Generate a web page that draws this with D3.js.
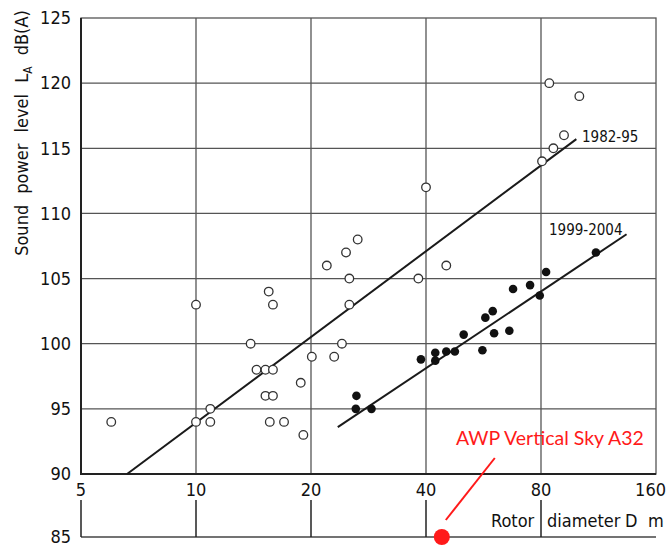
<!DOCTYPE html>
<html>
<head>
<meta charset="utf-8">
<script src="https://cdn.jsdelivr.net/npm/d3@7"></script>
<style>
  html, body { margin: 0; padding: 0; background: #fff; }
  svg { display: block; }
  .cond { font-family: "Liberation Sans Narrow", "DejaVu Sans Condensed", sans-serif; fill: #111; }
</style>
</head>
<body>
<svg width="667" height="548"></svg>
<script>
// open circles: 1982-95 turbines
const oldD  = [6.0, 10, 10, 10.9, 10.9, 13.9, 14.4, 15.2, 15.9, 15.5, 15.9, 15.2, 15.9, 15.6, 17.0, 18.8, 19.1, 20.1, 22.0, 23.0, 24.1, 24.7, 25.2, 25.2, 26.5, 38.2, 40, 45.2, 80.5, 84.1, 86.2, 91.9, 100.8];
const oldLw = [94, 103, 94, 95, 94, 100, 98, 98, 98, 104, 103, 96, 96, 94, 94, 97, 93, 99, 106, 99, 100, 107, 105, 103, 108, 105, 112, 106, 114, 120, 115, 116, 119];

// filled dots: 1999-2004 turbines
const newD  = [26.3, 26.2, 28.8, 38.8, 42.3, 42.3, 45.2, 47.6, 50.2, 56.2, 57.2, 59.8, 60.3, 66.1, 67.6, 74.9, 79.4, 82.5, 111.4];
const newLw = [96, 95, 95, 98.8, 99.3, 98.7, 99.4, 99.4, 100.7, 99.5, 102.0, 102.5, 100.8, 101.0, 104.2, 104.5, 103.7, 105.5, 107.0];

// regression lines [D, Lw]
const trendOld = [[6.6, 90], [99, 115.7]];
const trendNew = [[23.5, 93.6], [134, 108.4]];

const xTicks = [5, 10, 20, 40, 80, 160];
const yTicks = [90, 95, 100, 105, 110, 115, 120, 125];
const awp = {D: 44, Lw: 85, label: 'AWP Vertical Sky A32'};

const svg = d3.select('svg');

const x = d3.scaleLog().base(2).domain([5, 160]).range([81, 656]);
const y = d3.scaleLinear().domain([90, 125]).range([474, 18]);

const g = svg.append('g');

// grid
g.selectAll('.vgrid')
    .data(xTicks.slice(1, -1))
    .enter().append('line')
    .attr('x1', d => x(d)).attr('x2', d => x(d))
    .attr('y1', y(125)).attr('y2', y(90))
    .attr('stroke', '#555').attr('stroke-width', 1.3);

g.selectAll('.hgrid')
    .data(yTicks.slice(1, -1))
    .enter().append('line')
    .attr('x1', x(5)).attr('x2', x(160))
    .attr('y1', d => y(d)).attr('y2', d => y(d))
    .attr('stroke', '#555').attr('stroke-width', 1.3);

// frame
g.append('rect')
    .attr('x', x(5)).attr('y', y(125))
    .attr('width', x(160) - x(5)).attr('height', y(90) - y(125))
    .attr('fill', 'none').attr('stroke', '#555').attr('stroke-width', 1.3);
g.append('path')
    .attr('d', `M${x(5)},${y(125)}V${y(90)}H${x(160)}`)
    .attr('fill', 'none').attr('stroke', '#222').attr('stroke-width', 2);

// y tick labels
g.selectAll('.ylab')
    .data(yTicks)
    .enter().append('text')
    .attr('class', 'cond')
    .attr('x', 71).attr('y', d => y(d))
    .attr('dy', '0.35em')
    .attr('text-anchor', 'end')
    .attr('font-size', 18)
    .text(d => d);

// x tick labels (last one pinned to the right edge so it stays inside)
g.selectAll('.xlab')
    .data(xTicks)
    .enter().append('text')
    .attr('class', 'cond')
    .attr('x', d => d === 160 ? 666 : x(d)).attr('y', 490)
    .attr('dy', '0.35em')
    .attr('text-anchor', d => d === 160 ? 'end' : 'middle')
    .attr('font-size', 18)
    .text(d => d);

// lower scale: 85 dB baseline with tick stubs
const yBase = 537;
g.append('line')
    .attr('x1', x(5)).attr('x2', x(160))
    .attr('y1', yBase).attr('y2', yBase)
    .attr('stroke', '#444').attr('stroke-width', 1.5);
g.selectAll('.stub')
    .data(xTicks.slice(0, -1))
    .enter().append('line')
    .attr('x1', d => x(d)).attr('x2', d => x(d))
    .attr('y1', 500).attr('y2', yBase)
    .attr('stroke', '#222').attr('stroke-width', 1.5);
g.append('text')
    .attr('class', 'cond')
    .attr('x', 71).attr('y', yBase)
    .attr('dy', '0.35em')
    .attr('text-anchor', 'end')
    .attr('font-size', 18)
    .text('85');

// x title
const xt = g.append('text')
    .attr('class', 'cond')
    .attr('y', 527)
    .attr('font-size', 18);
xt.append('tspan').attr('x', 491).text('Rotor');
xt.append('tspan').attr('x', 547).text('diameter');
xt.append('tspan').attr('x', 625).text('D');
xt.append('tspan').attr('x', 648).text('m');

// y title
const yt = g.append('text')
    .attr('class', 'cond')
    .attr('transform', 'translate(28,133) rotate(-90)')
    .attr('text-anchor', 'middle')
    .attr('font-size', 18)
    .attr('word-spacing', 6);
yt.append('tspan').text('Sound power level L');
yt.append('tspan').attr('font-size', 12).attr('dy', 4).text('A');
yt.append('tspan').attr('dy', -4).text(' dB(A)');

// trend lines
const line = d3.line().x(d => x(d[0])).y(d => y(d[1]));
g.append('path').datum(trendOld).attr('d', line)
    .attr('stroke', '#1a1a1a').attr('stroke-width', 2).attr('fill', 'none');
g.append('path').datum(trendNew).attr('d', line)
    .attr('stroke', '#1a1a1a').attr('stroke-width', 2).attr('fill', 'none');

g.append('text').attr('class', 'cond')
    .attr('x', 582).attr('y', 137).attr('dy', '0.35em')
    .attr('font-size', 15).text('1982-95');
g.append('text').attr('class', 'cond')
    .attr('x', 549).attr('y', 230).attr('dy', '0.35em')
    .attr('font-size', 15).text('1999-2004');

// points
g.selectAll('.open')
    .data(oldD.map((d, i) => [d, oldLw[i]]))
    .enter().append('circle')
    .attr('cx', d => x(d[0])).attr('cy', d => y(d[1]))
    .attr('r', 4.3)
    .attr('fill', '#fff').attr('stroke', '#333').attr('stroke-width', 1.3);

g.selectAll('.filled')
    .data(newD.map((d, i) => [d, newLw[i]]))
    .enter().append('circle')
    .attr('cx', d => x(d[0])).attr('cy', d => y(d[1]))
    .attr('r', 4.3)
    .attr('fill', '#111');

// AWP annotation
g.append('line')
    .attr('x1', x(awp.D) + 4).attr('y1', yBase - 17)
    .attr('x2', x(awp.D) + 53).attr('y2', yBase - 79)
    .attr('stroke', '#ff1a1a').attr('stroke-width', 2);
g.append('circle')
    .attr('cx', x(awp.D)).attr('cy', yBase)
    .attr('r', 8)
    .attr('fill', '#ff1a1a');
g.append('text')
    .attr('x', 456).attr('y', 445)
    .attr('font-family', 'Lato, "Open Sans", sans-serif')
    .attr('font-size', 19.5)
    .attr('fill', '#ff1a1a')
    .text(awp.label);
</script>
</body>
</html>
